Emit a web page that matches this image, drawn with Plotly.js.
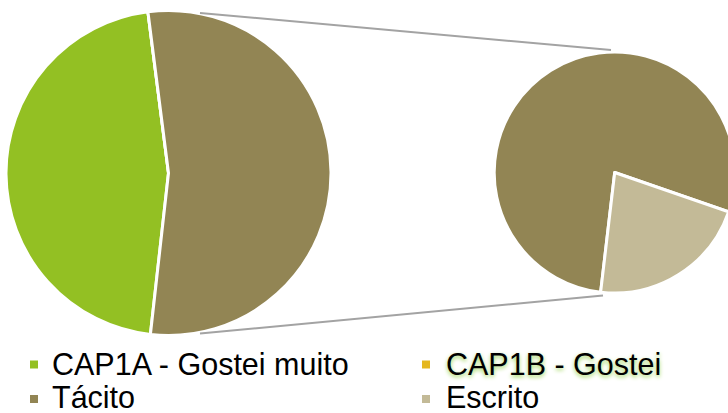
<!DOCTYPE html>
<html>
<head>
<meta charset="utf-8">
<script src="https://cdn.plot.ly/plotly-3.0.1.min.js"></script>
<style>
html, body { margin: 0; padding: 0; overflow: hidden; background: #fff; width: 728px; height: 413px; }
#chart { width: 740px; height: 413px; }
</style>
</head>
<body>
<div id="chart"></div>
<script>
// ---- data ----
const categories = ["CAP1A - Gostei muito", "CAP1B - Gostei", "Tácito", "Escrito"];
const values = [46.2, 0, 42.2, 11.6];
const colors = ["#93C023", "#E5B71E", "#928554", "#C3BA97"];
const otherLabel = "Outros";

// ---- geometry (pixels) ----
const W = 740, H = 413;
const px = x => x / W;
const py = y => (H - y) / H;

// primary pie: main category + zero category + combined "other" slice (secondary categories)
const primaryLabels = [categories[0], categories[1], otherLabel];
const primaryValues = [values[0], values[1], values[2] + values[3]];
const primaryColors = [colors[0], colors[1], colors[2]];

// secondary pie: breakdown of the combined slice
const secondaryLabels = [categories[2], categories[3]];
const secondaryValues = [values[2], values[3]];
const secondaryColors = [colors[2], colors[3]];

const traces = [
  {
    type: "pie", labels: primaryLabels, values: primaryValues, sort: false,
    direction: "clockwise", rotation: -173.6, textinfo: "none", hoverinfo: "label+value",
    marker: { colors: primaryColors, line: { color: "#ffffff", width: 3 } },
    domain: { x: [px(6), px(331)], y: [py(335.5), py(10.5)] },
    showlegend: false
  },
  {
    type: "pie", labels: secondaryLabels, values: secondaryValues, sort: false,
    direction: "clockwise", rotation: -173.3, textinfo: "none", hoverinfo: "label+value",
    marker: { colors: secondaryColors, line: { color: "#ffffff", width: 3 } },
    domain: { x: [px(494.2), px(735.2)], y: [py(293), py(52)] },
    showlegend: false
  }
];

// legend built from categories / colors
const legendPos = [
  { mx: 30, tx: 51, cy: 364.5, ty: 364 },
  { mx: 422, tx: 445, cy: 364.5, ty: 364 },
  { mx: 30, tx: 51, cy: 399, ty: 396.5 },
  { mx: 422, tx: 445, cy: 399, ty: 396.5 }
];
const shapes = [
  { type: "line", xref: "paper", yref: "paper", x0: px(200), y0: py(13), x1: px(611), y1: py(50),
    line: { color: "#a3a3a3", width: 2 } },
  { type: "line", xref: "paper", yref: "paper", x0: px(200), y0: py(333.5), x1: px(603), y1: py(295.5),
    line: { color: "#a3a3a3", width: 2 } }
];
const annotations = [];
categories.forEach((c, i) => {
  const p = legendPos[i];
  shapes.push({ type: "rect", xref: "paper", yref: "paper",
    x0: px(p.mx), x1: px(p.mx + 8), y0: py(p.cy + 4), y1: py(p.cy - 4),
    fillcolor: colors[i], line: { width: 0 } });
  annotations.push({ xref: "paper", yref: "paper", x: px(p.tx), y: py(p.ty),
    xanchor: "left", yanchor: "middle", showarrow: false, text: c, borderpad: 0,
    font: { family: "Liberation Sans, Arial, sans-serif", size: 30.5, color: "#000000",
      shadow: i === 1 ? "0px 2px 4px #9ed65a" : "none" } });
});

const layout = {
  width: W, height: H,
  margin: { l: 0, r: 0, t: 0, b: 0 },
  paper_bgcolor: "#ffffff",
  showlegend: false,
  shapes: shapes,
  annotations: annotations
};

Plotly.newPlot("chart", traces, layout, { displayModeBar: false, staticPlot: true });
</script>
</body>
</html>
